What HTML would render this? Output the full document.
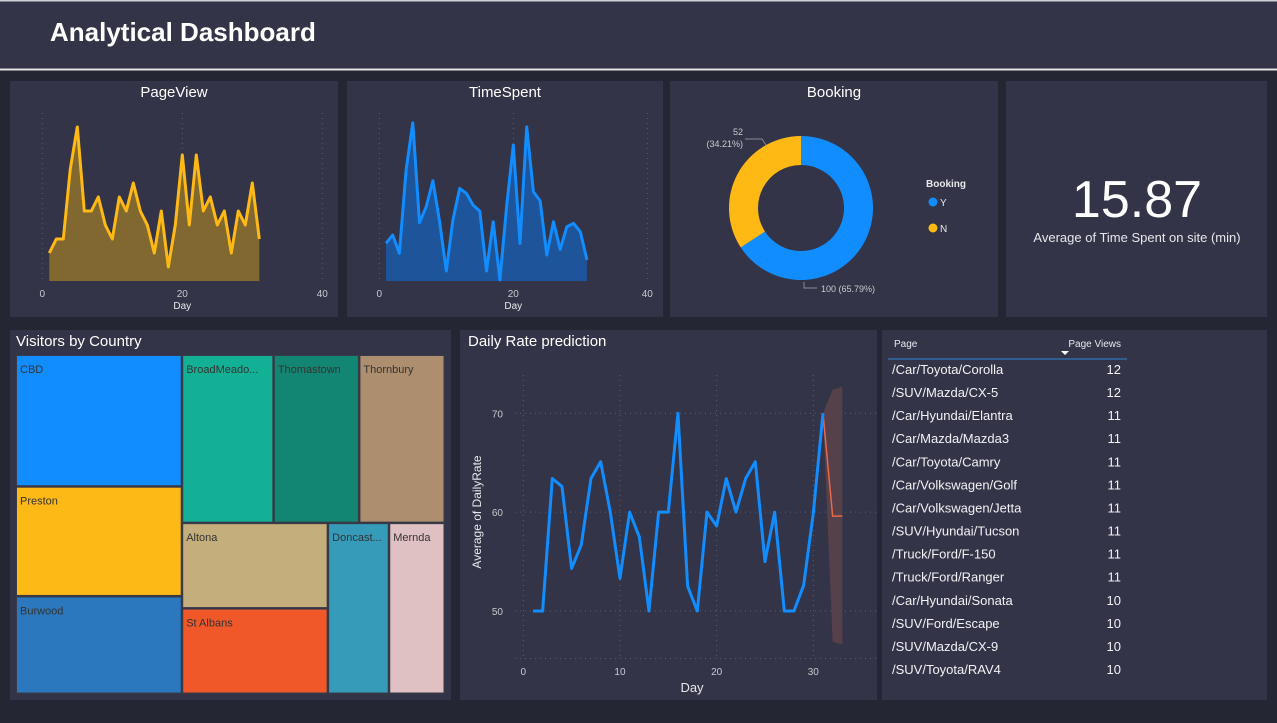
<!DOCTYPE html>
<html><head><meta charset="utf-8"><style>
body{margin:0;background:#252633;width:1277px;height:718px;overflow:hidden;font-family:"Liberation Sans",sans-serif}
svg text{font-family:"Liberation Sans",sans-serif}
</style></head><body>
<svg id="s" width="1277" height="718" xmlns="http://www.w3.org/2000/svg">
<rect x="0" y="0" width="1277" height="718" fill="#252633"/>
<rect x="0" y="0" width="1277" height="68" fill="#333447"/>
<rect x="0" y="0" width="1277" height="1.5" fill="#cfd0d6"/>
<text x="50" y="41" font-size="26" font-weight="bold" fill="#fff">Analytical Dashboard</text>
<rect x="0" y="68.5" width="1277" height="2" fill="#e6e6ea"/>

<rect x="10" y="81" width="328" height="236" fill="#333447"/>
<rect x="347" y="81" width="316" height="236" fill="#333447"/>
<rect x="670" y="81" width="328" height="236" fill="#333447"/>
<rect x="1006" y="81" width="261" height="236" fill="#333447"/>
<rect x="10" y="330" width="441" height="370" fill="#333447"/>
<rect x="460" y="330" width="417" height="370" fill="#333447"/>
<rect x="882" y="330" width="385" height="370" fill="#333447"/>

<text x="174" y="97" font-size="15" fill="#fff" text-anchor="middle">PageView</text>
<text x="505" y="97" font-size="15" fill="#fff" text-anchor="middle">TimeSpent</text>
<text x="834" y="97" font-size="15" fill="#fff" text-anchor="middle">Booking</text>
<text x="16" y="346" font-size="15" fill="#fff">Visitors by Country</text>
<text x="468" y="346" font-size="15" fill="#fff">Daily Rate prediction</text>

<text x="1137" y="217" font-size="52" fill="#fff" text-anchor="middle">15.87</text>
<text x="1137" y="242" font-size="13" fill="#e8e8ec" text-anchor="middle">Average of Time Spent on site (min)</text>
<g id="dyn"></g>
</svg>
<script>
// ---- data ----
const pvDays = Array.from({length:31},(_,i)=>i+1);
const pvValues = [2,3,3,8,11,5,5,6,4,3,6,5,7,5,4,2,5,1,4,9,4,9,5,6,4,5,2,5,4,7,3];
const tsValues = [11.3,13.8,8.3,33.3,47.5,17.5,22.3,30.1,17.8,3,18.5,27.8,26.3,22.8,21,3,17.8,0.3,22.3,40.8,11.3,46.3,26.8,24.1,7.8,17.8,9.5,16.3,17.3,14.8,6.3];
const xTicks = [0,20,40];
const bookingLabels = ["Y","N"];
const bookingValues = [100,52];
const drValues = [50,50,63.4,62.6,54.3,56.7,63.4,65.1,60,53.3,60,57.5,50,60,60,70,52.5,50,60,58.6,63.4,60,63.4,65.1,55,60,50,50,52.6,59.9,70];
const fcDays = [31,32,33];
const fcValues = [70,59.6,59.6];
const fcUpper = [70,72.4,72.7];
const fcLower = [70,46.9,46.6];
const drYTicks = [50,60,70];
const drXTicks = [0,10,20,30];
const tmNames = ["CBD","Preston","Burwood","BroadMeado...","Thomastown","Thornbury","Altona","St Albans","Doncast...","Mernda"];
const tmValues = [21600,18000,16000,15200,14200,14200,12300,12300,10300,9400];
const pageNames = ["/Car/Toyota/Corolla","/SUV/Mazda/CX-5","/Car/Hyundai/Elantra","/Car/Mazda/Mazda3","/Car/Toyota/Camry","/Car/Volkswagen/Golf","/Car/Volkswagen/Jetta","/SUV/Hyundai/Tucson","/Truck/Ford/F-150","/Truck/Ford/Ranger","/Car/Hyundai/Sonata","/SUV/Ford/Escape","/SUV/Mazda/CX-9","/SUV/Toyota/RAV4"];
const pageViews = [12,12,11,11,11,11,11,11,11,11,10,10,10,10];

const NS="http://www.w3.org/2000/svg";
const root=document.getElementById('dyn');
function mk(tag,attrs,parent){const e=document.createElementNS(NS,tag);for(const k in attrs)e.setAttribute(k,attrs[k]);(parent||root).appendChild(e);return e;}
function txt(x,y,s,size,fill,anchor,parent){const t=mk('text',{x:x,y:y,'font-size':size,fill:fill,'text-anchor':anchor||'start'},parent);t.textContent=s;return t;}

// ---- area chart helper ----
function areaChart(name,vals,x0,x20,base,pxPerUnit,color,fillc,gridTop){
  const sx=d=>x0+(x20-x0)*d/20, sy=v=>base-v*pxPerUnit;
  xTicks.forEach(t=>{
    const g=mk('line',{x1:sx(t),x2:sx(t),y1:gridTop,y2:base,stroke:'#5a5c70','stroke-dasharray':'1 4'});
    
    
    const l=txt(sx(t),base+16,String(t),10,'#c8c9d0','middle');
    
    
  });
  const ax=txt(sx(20),base+28,'Day',10,'#e8e8ec','middle');
  
  
  let pts=vals.map((v,i)=>sx(i+1)+','+sy(v)).join(' ');
  const a=mk('polygon',{points:sx(1)+','+base+' '+pts+' '+sx(vals.length)+','+base,fill:fillc});
  
  
  const p=mk('polyline',{points:pts,fill:'none',stroke:color,'stroke-width':3,'stroke-linejoin':'round'});
  
  
}
areaChart('pageview',pvValues,42.3,182.3,281,14,'#FFB914','#806830',113);
areaChart('timespent',tsValues,379.3,513.3,281,3.33,'#118DFF','#1E5499',113);

// ---- donut ----
(function(){
  const cx=801,cy=208,R=72,r=43,total=bookingValues.reduce((a,b)=>a+b,0);
  const cols=['#118DFF','#FFB914'];
  let a0=-Math.PI/2;
  bookingValues.forEach((v,i)=>{
    const a1=a0+2*Math.PI*v/total,lg=(a1-a0)>Math.PI?1:0;
    const P=(rad,a)=>[cx+rad*Math.cos(a),cy+rad*Math.sin(a)];
    const [x1,y1]=P(R,a0),[x2,y2]=P(R,a1),[x3,y3]=P(r,a1),[x4,y4]=P(r,a0);
    const s=mk('path',{d:`M${x1},${y1}A${R},${R} 0 ${lg} 1 ${x2},${y2}L${x3},${y3}A${r},${r} 0 ${lg} 0 ${x4},${y4}Z`,fill:cols[i]});
    
    
    a0=a1;
  });
  const pct=v=>(v/total*100).toFixed(2)+'%';
  const l1=txt(743,135,String(bookingValues[1]),9,'#c8c9d0','end');
  
  
  const l1b=txt(743,147,'('+pct(bookingValues[1])+')',9,'#c8c9d0','end');
  
  
  const ln1=mk('polyline',{points:'745,139 762,139 766,145',fill:'none',stroke:'#8a8b96'});
  
  
  const l2=txt(821,292,bookingValues[0]+' ('+pct(bookingValues[0])+')',9,'#c8c9d0','start');
  
  
  const ln2=mk('polyline',{points:'804,282 804,288 817,288',fill:'none',stroke:'#8a8b96'});
  
  
  const lt=txt(926,187,'Booking',10,'#e8e8ec','start');
  lt.setAttribute('font-weight','bold');
  
  
  bookingLabels.forEach((b,i)=>{
    const c=mk('circle',{cx:933,cy:202+26*i,r:4.5,fill:cols[i]});
    
    
    const t=txt(940,206+26*i,b,10,'#e8e8ec','start');
    
    
  });
})();

// ---- treemap (fixed hierarchy, proportional splits) ----
(function(){
  const cols=['#118DFF','#FDB915','#2B78BE','#12B196','#128672','#AD8E6E','#C4AF7C','#F0582A','#369BB8','#E0C1C3'];
  const X0=16,Y0=355,X1=445,Y1=694;
  const sum=a=>a.reduce((s,i)=>s+tmValues[i],0);
  const rects=[];
  function stackV(ids,x0,y0,x1,y1){let y=y0,t=sum(ids);ids.forEach(i=>{const h=(y1-y0)*tmValues[i]/t;rects.push([i,x0,y,x1,y+h]);y+=h;});}
  function stackH(ids,x0,y0,x1,y1){let x=x0,t=sum(ids);ids.forEach(i=>{const w=(x1-x0)*tmValues[i]/t;rects.push([i,x,y0,x+w,y1]);x+=w;});}
  const all=sum([0,1,2,3,4,5,6,7,8,9]);
  const xa=X0+(X1-X0)*sum([0,1,2])/all;
  stackV([0,1,2],X0,Y0,xa,Y1);
  const rest=sum([3,4,5,6,7,8,9]);
  const yb=Y0+(Y1-Y0)*sum([3,4,5])/rest;
  stackH([3,4,5],xa,Y0,X1,yb);
  const br=sum([6,7,8,9]);
  const xc=xa+(X1-xa)*sum([6,7])/br;
  stackV([6,7],xa,yb,xc,Y1);
  stackH([8,9],xc,yb,X1,Y1);
  rects.forEach(([i,x0,y0,x1,y1])=>{
    const r=mk('rect',{x:x0+0.5,y:y0+0.5,width:x1-x0-1.5,height:y1-y0-1.5,fill:cols[i],stroke:'#3a3b48','stroke-width':1});
    
    
    const t=txt(x0+4,y0+18,tmNames[i],11,'#333','start');
    
    
  });
})();

// ---- daily rate line ----
(function(){
  const sx=d=>523.3+d*9.667, sy=v=>611-(v-50)*9.885;
  const top=375,bot=660;
  [0,10,20,30].forEach(t=>{
    const g=mk('line',{x1:sx(t),x2:sx(t),y1:top,y2:bot,stroke:'#5a5c70','stroke-dasharray':'1 4'});
    
    
  });
  drYTicks.concat([45.2]).forEach(v=>{
    const g=mk('line',{x1:515,x2:877,y1:sy(v),y2:sy(v),stroke:'#5a5c70','stroke-dasharray':'1 4'});
    
    
  });
  drYTicks.forEach(v=>{
    const l=txt(503,sy(v)+4,String(v),10,'#c8c9d0','end');
    
    
  });
  drXTicks.forEach(t=>{
    const l=txt(sx(t),675,String(t),10,'#c8c9d0','middle');
    
    
  });
  const xt=txt(692,692,'Day',13,'#e8e8ec','middle');
  
  
  const yt=txt(0,0,'Average of DailyRate',12,'#e8e8ec','middle');
  yt.setAttribute('transform','translate(481,512) rotate(-90)');
  
  
  const band=fcDays.map((d,i)=>sx(d)+','+sy(fcUpper[i])).concat(fcDays.slice().reverse().map((d,j)=>{const i=fcDays.length-1-j;return sx(d)+','+sy(fcLower[i]);})).join(' ');
  const b=mk('polygon',{points:band,fill:'#56404a'});
  
  
  const f=mk('polyline',{points:fcDays.map((d,i)=>sx(d)+','+sy(fcValues[i])).join(' '),fill:'none',stroke:'#E8694A','stroke-width':1.5});
  
  
  const p=mk('polyline',{points:drValues.map((v,i)=>sx(i+1)+','+sy(v)).join(' '),fill:'none',stroke:'#118DFF','stroke-width':3,'stroke-linejoin':'round'});
  
  
})();

// ---- table ----
(function(){
  const h1=txt(894,347,'Page',10,'#e8e8ec','start');
  
  
  const h2=txt(1121,347,'Page Views',10,'#e8e8ec','end');
  
  
  const s=mk('polygon',{points:'1061,351 1069,351 1065,355',fill:'#fff'});
  
  
  const l=mk('line',{x1:888,x2:1127,y1:359,y2:359,stroke:'#2f6aa8','stroke-width':1.5});
  
  
  pageNames.forEach((n,i)=>{
    const y=374+i*23.08;
    const a=txt(892,y,n,13,'#f2f2f5','start');
    
    
    const b=txt(1121,y,String(pageViews[i]),13,'#f2f2f5','end');
    
    
  });
})();
</script>
</body></html>
